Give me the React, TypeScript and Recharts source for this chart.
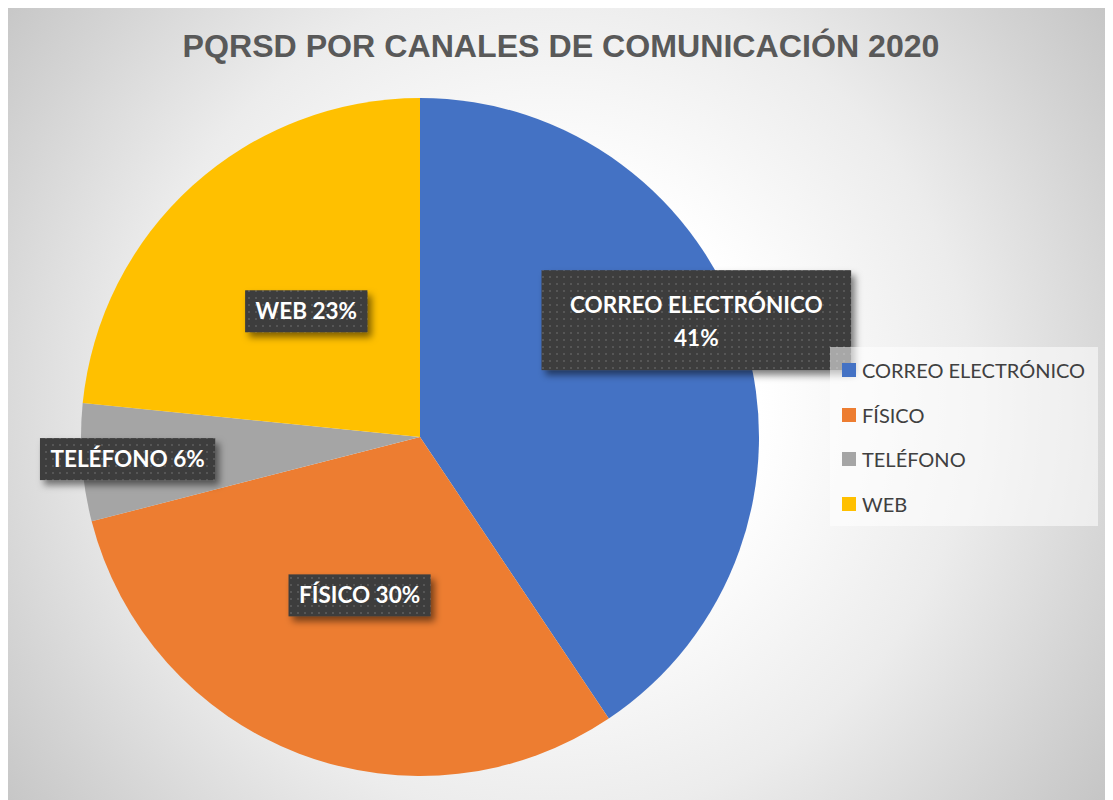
import { Cell, Legend, Pie, PieChart } from "recharts";

const CHANNELS = ["CORREO ELECTRÓNICO", "FÍSICO", "TELÉFONO", "WEB"];
const COUNTS = [406, 304, 56, 234];
const COLORS = ["#4472C4", "#ED7D31", "#A5A5A5", "#FFC000"];

// where each data label sits: fraction of the radius and angle nudge (deg)
const LABEL_PLACEMENT = [
  { r: 0.885, shift: 6, wrap: true },
  { r: 0.5, shift: 0, wrap: false },
  { r: 0.865, shift: 0, wrap: false },
  { r: 0.5, shift: 0, wrap: false },
];

const TITLE = "PQRSD POR CANALES DE COMUNICACIÓN 2020";
const W = 1105;
const H = 792;
const RAD = Math.PI / 180;
const LABEL_FONT = "bold 22.5px Lato";

const data = CHANNELS.map((name, i) => ({ name, value: COUNTS[i] }));

let measureCtx: CanvasRenderingContext2D | null = null;
function textWidth(s: string): number {
  if (!measureCtx) measureCtx = document.createElement("canvas").getContext("2d");
  if (!measureCtx) return s.length * 12;
  measureCtx.font = LABEL_FONT;
  return measureCtx.measureText(s).width;
}

type LabelProps = {
  cx: number;
  cy: number;
  midAngle: number;
  outerRadius: number;
  percent: number;
  index: number;
  name: string;
};

function renderLabel({ cx, cy, midAngle, outerRadius, percent, index, name }: LabelProps) {
  const place = LABEL_PLACEMENT[index];
  const ang = (midAngle + place.shift) * RAD;
  const x = cx + Math.cos(-ang) * outerRadius * place.r;
  const y = cy + Math.sin(-ang) * outerRadius * place.r;
  const pct = `${Math.round(percent * 100)}%`;
  const lines = place.wrap ? [name, pct] : [`${name} ${pct}`];
  const tw = Math.max(...lines.map(textWidth));
  const bw = tw + (place.wrap ? 57 : 21);
  const bh = place.wrap ? 100 : 42;
  const baselines = place.wrap ? [y - 7, y + 26] : [y + 8];
  return (
    <g key={`lbl-${index}`}>
      <rect
        x={x - bw / 2}
        y={y - bh / 2}
        width={bw}
        height={bh}
        fill="url(#lblPattern)"
        filter="url(#lblShadow)"
      />
      {lines.map((t, k) => (
        <text
          key={k}
          x={x}
          y={baselines[k]}
          textAnchor="middle"
          fill="#ffffff"
          style={{ font: LABEL_FONT }}
        >
          {t}
        </text>
      ))}
    </g>
  );
}

type LegendEntry = { value: string; color?: string };

function renderLegend({ payload }: { payload?: LegendEntry[] }) {
  return (
    <div
      style={{
        width: 268,
        height: 179,
        background: "rgba(255,255,255,0.55)",
        boxSizing: "border-box",
        paddingTop: 1,
        paddingLeft: 12,
      }}
    >
      {(payload ?? []).map((p, i) => (
        <div
          key={p.value}
          style={{ display: "flex", alignItems: "center", height: 44.5 }}
        >
          <span
            style={{
              display: "inline-block",
              width: 14,
              height: 14,
              background: COLORS[i],
              marginRight: 6,
            }}
          />
          <span style={{ font: "20px Lato", color: "#404040" }}>{p.value}</span>
        </div>
      ))}
    </div>
  );
}

export default function App() {
  return (
    <div
      style={{
        width: W,
        height: H,
        position: "relative",
        background:
          "radial-gradient(circle 700px at 542px 392px, #ffffff 0%, #ffffff 30%, #ececec 60%, #d4d4d4 83%, #c6c6c6 97%, #c4c4c4 100%)",
      }}
    >
      <PieChart width={W} height={H} margin={{ top: 0, right: 0, bottom: 0, left: 0 }}>
        <defs>
          <pattern id="lblPattern" width="7" height="7" patternUnits="userSpaceOnUse">
            <rect width="7" height="7" fill="#3d3d3d" />
            <rect x="2" y="2" width="2" height="2" fill="#565656" />
          </pattern>
          <filter id="lblShadow" x="-20%" y="-30%" width="150%" height="180%">
            <feDropShadow dx="4" dy="5" stdDeviation="3.5" floodColor="#000" floodOpacity="0.5" />
          </filter>
        </defs>
        <text
          x={553}
          y={49}
          textAnchor="middle"
          textLength={757}
          lengthAdjust="spacingAndGlyphs"
          fill="#595959"
          style={{ font: "bold 31px 'Liberation Sans', Arial, sans-serif" }}
        >
          {TITLE}
        </text>
        <Pie
          data={data}
          dataKey="value"
          nameKey="name"
          cx={412}
          cy={429}
          outerRadius={339}
          startAngle={90}
          endAngle={-270}
          stroke="none"
          label={renderLabel as never}
          labelLine={false}
          isAnimationActive={false}
        >
          {data.map((d, i) => (
            <Cell key={d.name} fill={COLORS[i]} />
          ))}
        </Pie>
        <Legend
          content={renderLegend as never}
          wrapperStyle={{ left: 822, top: 339, width: 268, height: 179 }}
        />
      </PieChart>
    </div>
  );
}
